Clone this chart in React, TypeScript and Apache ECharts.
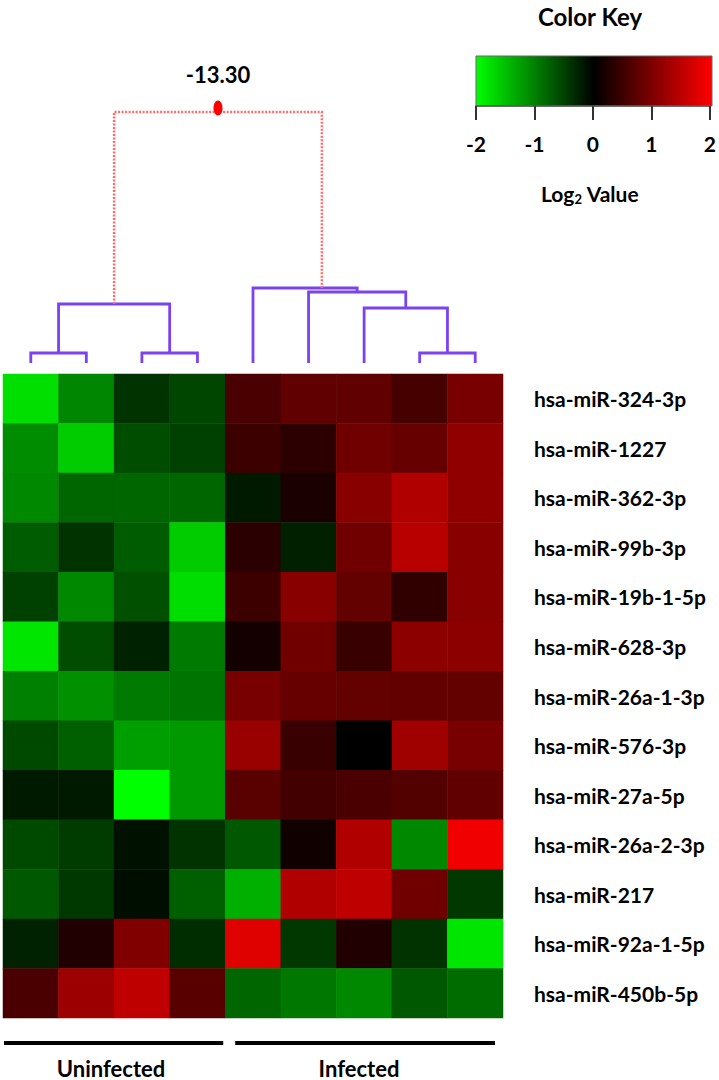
import React, { useEffect, useRef } from "react";
import * as echarts from "echarts";

// ---------------- data ----------------
const samples = ["U1", "U2", "U3", "U4", "I1", "I2", "I3", "I4", "I5"];
const mirnas = [
  "hsa-miR-324-3p",
  "hsa-miR-1227",
  "hsa-miR-362-3p",
  "hsa-miR-99b-3p",
  "hsa-miR-19b-1-5p",
  "hsa-miR-628-3p",
  "hsa-miR-26a-1-3p",
  "hsa-miR-576-3p",
  "hsa-miR-27a-5p",
  "hsa-miR-26a-2-3p",
  "hsa-miR-217",
  "hsa-miR-92a-1-5p",
  "hsa-miR-450b-5p",
];
// log2 values per miRNA (row), per sample (column)
const log2Values: number[][] = [
  [-1.75, -1.05, -0.4, -0.55, 0.58, 0.75, 0.75, 0.56, 0.94],
  [-1.1, -1.6, -0.6, -0.5, 0.47, 0.35, 0.88, 0.8, 1.13],
  [-1.07, -0.8, -0.8, -0.8, -0.2, 0.2, 1.07, 1.38, 1.13],
  [-0.72, -0.4, -0.72, -1.6, 0.33, -0.25, 0.88, 1.44, 1.07],
  [-0.5, -1.07, -0.63, -1.73, 0.47, 1.07, 0.78, 0.38, 1.07],
  [-1.8, -0.6, -0.27, -0.96, 0.16, 0.88, 0.44, 1.1, 1.1],
  [-1.0, -1.13, -0.96, -0.91, 0.94, 0.8, 0.78, 0.77, 0.78],
  [-0.58, -0.75, -1.25, -1.2, 1.2, 0.44, 0.0, 1.25, 0.94],
  [-0.2, -0.2, -2.0, -1.2, 0.7, 0.52, 0.58, 0.64, 0.75],
  [-0.58, -0.47, -0.13, -0.4, -0.7, 0.13, 1.38, -1.07, 1.88],
  [-0.7, -0.45, -0.11, -0.75, -1.38, 1.38, 1.5, 0.88, -0.44],
  [-0.27, 0.25, 1.0, -0.35, 1.75, -0.44, 0.25, -0.4, -1.8],
  [0.58, 1.22, 1.5, 0.69, -0.8, -0.94, -1.07, -0.69, -0.85],
];
const keyTicks = [-2, -1, 0, 1, 2];
const groupNames = ["Uninfected", "Infected"];
// dendrogram merges: [child a, child b, height]; leaves are 0..8, merges numbered 9+
const merges: [number, number, number][] = [
  [0, 1, 1.0],
  [2, 3, 1.0],
  [9, 10, 5.9],
  [7, 8, 1.0],
  [6, 12, 5.5],
  [5, 13, 7.1],
  [4, 14, 7.5],
  [11, 15, 25.1],
];
const rootLegX = [2.0, 5.74];
const rootLabel = "-13.30";

// ---------------- styles ----------------
const FONT = 'Lato, "Open Sans", sans-serif';
const PURPLE = "#7b42f2";
const DASH_RED = "#ff6b6b";

// heatmap geometry
const HM_LEFT = 3;
const HM_TOP = 374;
const HM_W = 500;
const HM_H = 644;

export default function App() {
  const ref = useRef<HTMLDivElement>(null);

  useEffect(() => {
    if (!ref.current) return;
    const chart = echarts.init(ref.current, undefined, { renderer: "svg" });

    const heatData: [number, number, number][] = [];
    log2Values.forEach((row, r) =>
      row.forEach((v, c) => heatData.push([c, r, v]))
    );

    // dendrogram node positions
    const nodeX: number[] = samples.map((_, i) => i + 0.5);
    const nodeH: number[] = samples.map(() => 0);
    const dendroData: number[][] = [];
    merges.forEach(([a, b, h], idx) => {
      const isRoot = idx === merges.length - 1;
      const xa = isRoot ? rootLegX[0] : nodeX[a];
      const xb = isRoot ? rootLegX[1] : nodeX[b];
      dendroData.push([xa, nodeH[a], xb, nodeH[b], h, isRoot ? 1 : 0]);
      nodeX.push((nodeX[a] + nodeX[b]) / 2);
      nodeH.push(h);
    });

    const colW = HM_W / samples.length;
    const groupSpans = [
      [HM_LEFT + 1, HM_LEFT + 4 * colW - 2],
      [HM_LEFT + 4 * colW + 10, HM_LEFT + 9 * colW - 8],
    ];
    const groupLabelX = [111, 359];

    const option: any = {
      animation: false,
      backgroundColor: "#ffffff",
      grid: [
        { left: HM_LEFT, top: HM_TOP, width: HM_W, height: HM_H },
        { left: HM_LEFT, top: 63, width: HM_W, height: 300 },
        { left: 476, top: 56, width: 236, height: 50 },
      ],
      xAxis: [
        {
          gridIndex: 0,
          type: "category",
          data: samples,
          show: false,
        },
        { gridIndex: 1, type: "value", min: 0, max: 9, show: false },
        {
          gridIndex: 2,
          type: "value",
          min: keyTicks[0],
          max: keyTicks[keyTicks.length - 1],
          interval: 1,
          position: "bottom",
          axisLine: { show: true, lineStyle: { color: "#555", width: 1.5 } },
          axisTick: {
            show: true,
            length: 14,
            lineStyle: { color: "#333", width: 2 },
          },
          splitLine: { show: false },
          axisLabel: {
            margin: 27,
            color: "#000",
            fontSize: 21,
            fontWeight: "bold",
            fontFamily: FONT,
          },
        },
      ],
      yAxis: [
        {
          gridIndex: 0,
          type: "category",
          data: mirnas,
          inverse: true,
          position: "right",
          axisLine: { show: false },
          axisTick: { show: false },
          axisLabel: {
            align: "left",
            margin: 31,
            color: "#000",
            fontSize: 21,
            fontWeight: "bold",
            fontFamily: FONT,
          },
        },
        { gridIndex: 1, type: "value", min: 0, max: 30, show: false },
        { gridIndex: 2, type: "value", min: 0, max: 1, show: false },
      ],
      visualMap: {
        show: false,
        type: "continuous",
        min: -2,
        max: 2,
        seriesIndex: 0,
        inRange: { color: ["#00ff00", "#000000", "#ff0000"] },
      },
      series: [
        {
          type: "heatmap",
          xAxisIndex: 0,
          yAxisIndex: 0,
          data: heatData,
          itemStyle: { borderWidth: 0 },
          emphasis: { disabled: true },
        },
        {
          type: "custom",
          xAxisIndex: 1,
          yAxisIndex: 1,
          data: dendroData,
          encode: { x: [0, 2], y: [1, 3, 4] },
          renderItem: (params: any, api: any) => {
            const xl = api.value(0);
            const hl = api.value(1);
            const xr = api.value(2);
            const hr = api.value(3);
            const h = api.value(4);
            const root = api.value(5) === 1;
            const pts = [
              api.coord([xl, hl]),
              api.coord([xl, h]),
              api.coord([xr, h]),
              api.coord([xr, hr]),
            ];
            const line = {
              type: "polyline",
              shape: { points: pts },
              style: root
                ? {
                    stroke: DASH_RED,
                    lineWidth: 2.5,
                    lineDash: [2, 1.5],
                    fill: "none",
                  }
                : { stroke: PURPLE, lineWidth: 2.8, fill: "none" },
            };
            if (!root) return line;
            const mid = api.coord([(xl + xr) / 2, h]);
            return {
              type: "group",
              children: [
                line,
                {
                  type: "ellipse",
                  shape: { cx: mid[0], cy: mid[1] - 4, rx: 4.5, ry: 7.5 },
                  style: { fill: "#ff0000" },
                },
                {
                  type: "text",
                  style: {
                    text: rootLabel,
                    x: mid[0],
                    y: mid[1] - 38,
                    align: "center",
                    verticalAlign: "middle",
                    fontSize: 22,
                    fontWeight: "bold",
                    fontFamily: FONT,
                    fill: "#000",
                  },
                },
              ],
            };
          },
        },
      ],
      graphic: [
        {
          type: "text",
          x: 590,
          y: 16,
          style: {
            text: "Color Key",
            align: "center",
            verticalAlign: "middle",
            fontSize: 24,
            fontWeight: "bold",
            fontFamily: FONT,
            fill: "#000",
          },
        },
        {
          type: "rect",
          shape: { x: 476, y: 56, width: 236, height: 50 },
          style: {
            fill: new echarts.graphic.LinearGradient(0, 0, 1, 0, [
              { offset: 0, color: "#00ff00" },
              { offset: 0.5, color: "#000000" },
              { offset: 1, color: "#ff0000" },
            ]),
            stroke: "#666",
            lineWidth: 1,
          },
          z: -1,
        },
        {
          type: "text",
          x: 590,
          y: 193,
          style: {
            text: "{a|Log}{s|2}{a| Value}",
            align: "center",
            verticalAlign: "middle",
            rich: {
              a: {
                fontSize: 21,
                fontWeight: "bold",
                fontFamily: FONT,
                color: "#000",
              },
              s: {
                fontSize: 13,
                fontWeight: "bold",
                fontFamily: FONT,
                color: "#000",
                padding: [12, 0, 0, 0],
              },
            },
          },
        },
        ...groupSpans.map(([x1, x2]) => ({
          type: "line",
          shape: { x1, y1: 1043, x2, y2: 1043 },
          style: { stroke: "#000", lineWidth: 4 },
        })),
        ...groupNames.map((name, i) => ({
          type: "text",
          x: groupLabelX[i],
          y: 1068,
          style: {
            text: name,
            align: "center",
            verticalAlign: "middle",
            fontSize: 22,
            fontWeight: "bold",
            fontFamily: FONT,
            fill: "#000",
          },
        })),
      ],
    };

    chart.setOption(option);
    return () => chart.dispose();
  }, []);

  return (
    <div
      ref={ref}
      style={{ position: "fixed", left: 0, top: 0, width: 719, height: 1080 }}
    />
  );
}
